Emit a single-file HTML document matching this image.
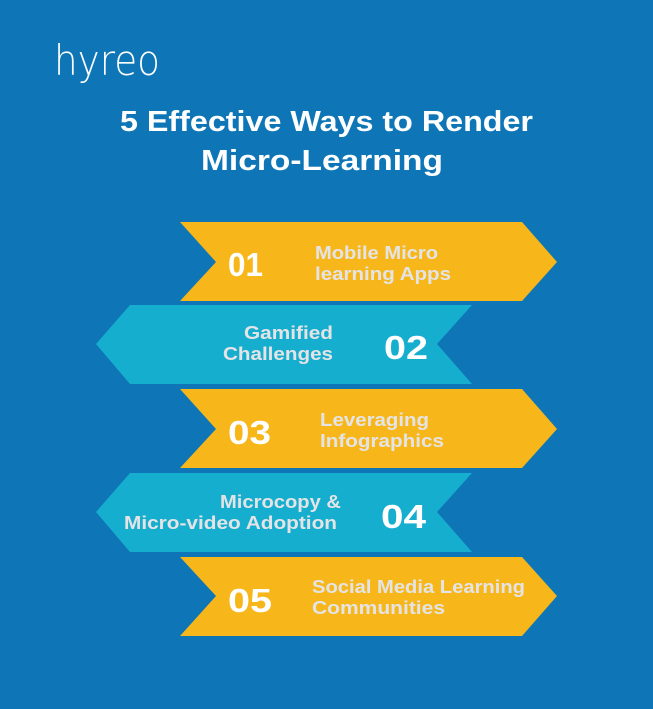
<!DOCTYPE html>
<html><head><meta charset="utf-8"><style>
html,body{margin:0;padding:0;background:#0E76B6;}
svg{display:block}
text{font-family:"Liberation Sans",sans-serif;}
</style></head><body>
<svg width="653" height="709" viewBox="0 0 653 709" xmlns="http://www.w3.org/2000/svg">
<rect width="653" height="709" fill="#0E76B6"/>
<text x="54" y="75" font-size="42" fill="#fff" textLength="106" lengthAdjust="spacingAndGlyphs" style="font-family:'DejaVu Sans','Liberation Sans',sans-serif;font-weight:200">hyreo</text>
<text x="120" y="131" font-size="29" font-weight="bold" fill="#fff" textLength="413" lengthAdjust="spacingAndGlyphs">5 Effective Ways to Render</text>
<text x="201" y="170" font-size="29" font-weight="bold" fill="#fff" textLength="242" lengthAdjust="spacingAndGlyphs">Micro-Learning</text>

<g fill="#F7B71A">
<polygon points="180,222 522,222 557,262 522,301 180,301 216,262"/>
<polygon points="180,389 522,389 557,429 522,468 180,468 216,429"/>
<polygon points="180,557 522,557 557,596 522,636 180,636 216,596"/>
</g>
<g fill="#16AECE">
<polygon points="130,305 472,305 437,344 472,384 130,384 96,344"/>
<polygon points="130,473 472,473 437,512 472,552 130,552 96,512"/>
</g>

<g font-size="33" font-weight="bold" fill="#fff">
<text x="228" y="276" textLength="35" lengthAdjust="spacingAndGlyphs">01</text>
<text x="384" y="359" textLength="44" lengthAdjust="spacingAndGlyphs">02</text>
<text x="228" y="444" textLength="43" lengthAdjust="spacingAndGlyphs">03</text>
<text x="381" y="528" textLength="45" lengthAdjust="spacingAndGlyphs">04</text>
<text x="228" y="612" textLength="44" lengthAdjust="spacingAndGlyphs">05</text>
</g>
<g font-size="18" font-weight="bold" fill="#E4E4E6" lengthAdjust="spacingAndGlyphs">
<text x="315" y="259" textLength="123" lengthAdjust="spacingAndGlyphs">Mobile Micro</text>
<text x="315" y="280" textLength="136" lengthAdjust="spacingAndGlyphs">learning Apps</text>
<text x="244" y="339" textLength="89" lengthAdjust="spacingAndGlyphs">Gamified</text>
<text x="223" y="360" textLength="110" lengthAdjust="spacingAndGlyphs">Challenges</text>
<text x="320" y="426" textLength="109" lengthAdjust="spacingAndGlyphs">Leveraging</text>
<text x="320" y="447" textLength="124" lengthAdjust="spacingAndGlyphs">Infographics</text>
<text x="220" y="508" textLength="121" lengthAdjust="spacingAndGlyphs">Microcopy &amp;</text>
<text x="124" y="529" textLength="213" lengthAdjust="spacingAndGlyphs">Micro-video Adoption</text>
<text x="312" y="593" textLength="213" lengthAdjust="spacingAndGlyphs">Social Media Learning</text>
<text x="312" y="614" textLength="133" lengthAdjust="spacingAndGlyphs">Communities</text>
</g>
</svg>
</body></html>
